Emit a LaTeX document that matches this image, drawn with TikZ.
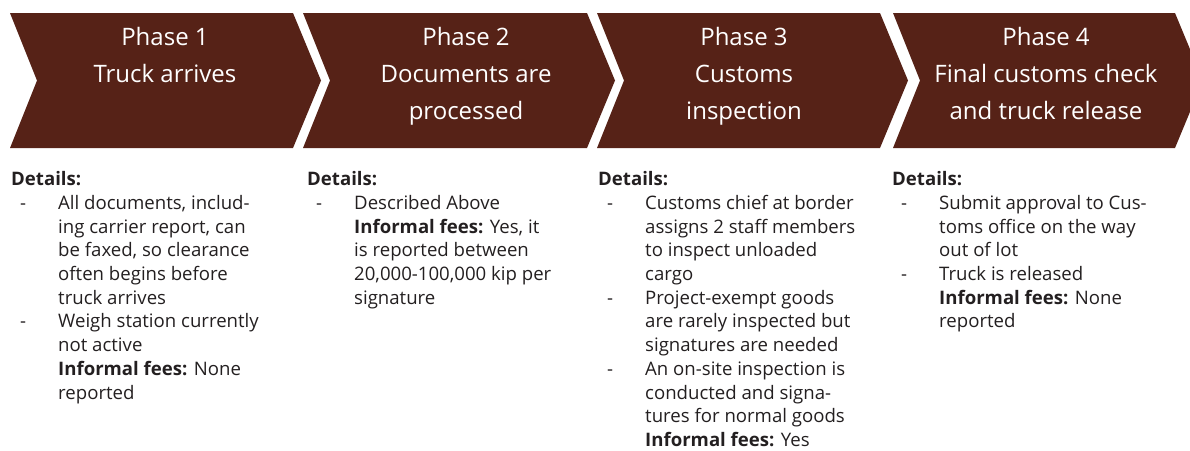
\documentclass[tikz,border=0pt]{standalone}
\usepackage{fontspec}
\setmainfont{Open Sans}
\usepackage{array}
\usetikzlibrary{positioning}
\definecolor{phasebrown}{RGB}{86,34,23}
\definecolor{darktext}{RGB}{35,31,32}

\begin{document}
\begin{tikzpicture}[
    x=1pt, y=-1pt,
    chevron/.style={fill=phasebrown},
    phase/.style={anchor=north, align=center, text=white, inner sep=0pt,
        font=\fontsize{24}{37}\selectfont},
    details/.style={anchor=north west, inner sep=0pt, text=darktext,
        font=\fontsize{18.6}{23.7}\selectfont}
]
    \useasboundingbox (0,0) rectangle (1190,450);
    \clip (0,0) rectangle (1190,450);

    % ---- Phase 1 ----
    \fill[chevron] (10,13) -- (293,13) -- (321,80.5) -- (293,148) -- (10,148) -- (37,80.5) -- cycle;
    \node[phase] (ph1) at (165,27.5) {Phase 1\\Truck arrives};
    \node[details] (det1) at (11,169) {%
        \begin{tabular}{@{\hspace{9pt}}p{38pt}@{}l@{}}
        \multicolumn{2}{@{}l@{}}{\textbf{Details:}}\\
        - & All documents, includ-\\
          & ing carrier report, can\\
          & be faxed, so clearance\\
          & often begins before\\
          & truck arrives\\
        - & Weigh station currently\\
          & not active\\
          & \textbf{Informal fees:} None\\
          & reported
        \end{tabular}};

    % ---- Phase 2 ----
    \fill[chevron] (303,13) -- (587,13) -- (615,80.5) -- (587,148) -- (303,148) -- (330,80.5) -- cycle;
    \node[phase] (ph2) at (466,27.5) {Phase 2\\Documents are\\processed};
    \node[details] (det2) at (307,169) {%
        \begin{tabular}{@{\hspace{9pt}}p{38pt}@{}l@{}}
        \multicolumn{2}{@{}l@{}}{\textbf{Details:}}\\
        - & Described Above\\
          & \textbf{Informal fees:} Yes, it\\
          & is reported between\\
          & 20,000-100,000 kip per\\
          & signature
        \end{tabular}};

    % ---- Phase 3 ----
    \fill[chevron] (597,13) -- (880,13) -- (908,80.5) -- (880,148) -- (597,148) -- (624,80.5) -- cycle;
    \node[phase] (ph3) at (744,27.5) {Phase 3\\Customs\\inspection};
    \node[details] (det3) at (598,169) {%
        \begin{tabular}{@{\hspace{9pt}}p{38pt}@{}l@{}}
        \multicolumn{2}{@{}l@{}}{\textbf{Details:}}\\
        - & Customs chief at border\\
          & assigns 2 staff members\\
          & to inspect unloaded\\
          & cargo\\
        - & Project-exempt goods\\
          & are rarely inspected but\\
          & signatures are needed\\
        - & An on-site inspection is\\
          & conducted and signa-\\
          & tures for normal goods\\
          & \textbf{Informal fees:} Yes
        \end{tabular}};

    % ---- Phase 4 ----
    \fill[chevron] (893,13) -- (1175,13) -- (1203,80.5) -- (1175,148) -- (893,148) -- (920,80.5) -- cycle;
    \node[phase] (ph4) at (1046,27.5) {Phase 4\\Final customs check\\and truck release};
    \node[details] (det4) at (892,169) {%
        \begin{tabular}{@{\hspace{9pt}}p{38pt}@{}l@{}}
        \multicolumn{2}{@{}l@{}}{\textbf{Details:}}\\
        - & Submit approval to Cus-\\
          & toms office on the way\\
          & out of lot\\
        - & Truck is released\\
          & \textbf{Informal fees:} None\\
          & reported
        \end{tabular}};
\end{tikzpicture}
\end{document}
